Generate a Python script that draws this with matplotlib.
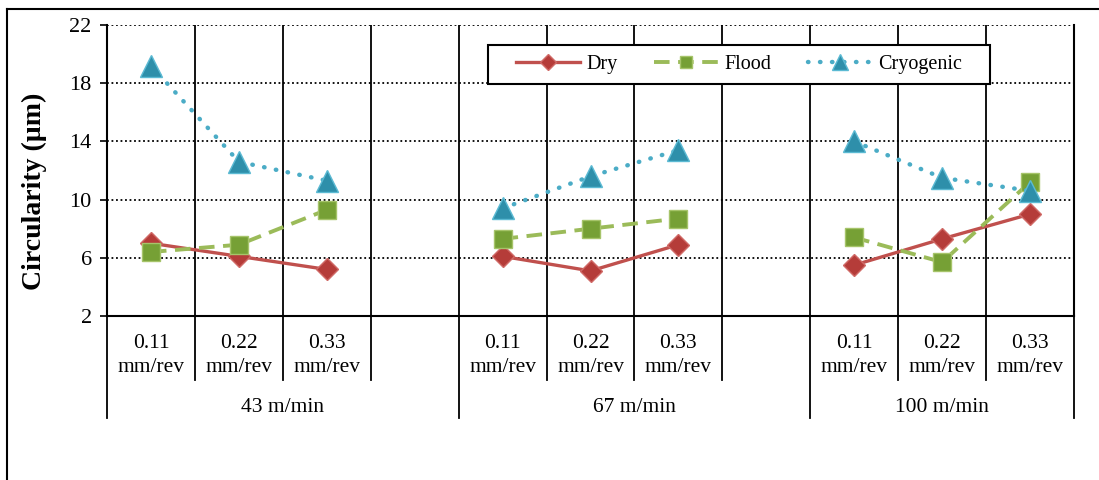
import matplotlib.pyplot as plt
from matplotlib.lines import Line2D
from matplotlib.patches import Rectangle
import numpy as np

plt.rcParams['font.family'] = ['Liberation Serif', 'DejaVu Serif']

# categories (None = empty slot between speed groups)
feeds = ['0.11\nmm/rev', '0.22\nmm/rev', '0.33\nmm/rev', None,
         '0.11\nmm/rev', '0.22\nmm/rev', '0.33\nmm/rev', None,
         '0.11\nmm/rev', '0.22\nmm/rev', '0.33\nmm/rev']
speeds = ['43 m/min', '67 m/min', '100 m/min']

nan = np.nan
dry = [7.0, 6.1, 5.2, nan, 6.1, 5.1, 6.9, nan, 5.5, 7.3, 9.0]
flood = [6.4, 6.9, 9.3, nan, 7.3, 8.0, 8.7, nan, 7.4, 5.7, 11.2]
cryo = [19.2, 12.6, 11.3, nan, 9.4, 11.6, 13.4, nan, 14.0, 11.5, 10.6]

yticks = [2, 6, 10, 14, 18, 22]


def main():
    fig = plt.figure(figsize=(10.99, 4.8), dpi=100)
    W, H = 1099, 480
    ax = fig.add_axes([107 / W, (480 - 316) / H, (1074 - 107) / W, (316 - 25) / H])

    x = np.arange(len(feeds))
    ax.plot(x, dry, color='#C0504D', lw=2.4, marker='D', ms=11,
            mfc='#B53C39', mec='#D06A67', mew=1, label='Dry', zorder=3)
    ax.plot(x, flood, color='#9BBB59', lw=2.8, ls=(0, (4, 2.2)), marker='s', ms=13,
            mfc='#76A035', mec='#A6C46A', mew=1, label='Flood', zorder=3)
    ax.plot(x, cryo, color='#4BACC6', lw=3.2, ls=(0, (0.1, 2.6)), dash_capstyle='round',
            marker='^', ms=16, mfc='#2E8FAA', mec='#5BBAD3', mew=1,
            label='Cryogenic', zorder=3)

    ax.set_xlim(-0.5, len(feeds) - 0.5)
    ax.set_ylim(2, 22)
    ax.set_yticks(yticks)
    ax.set_yticklabels([str(t) for t in yticks], fontsize=16)
    ax.tick_params(axis='y', length=5, width=1.2, pad=6)
    ax.set_xticks([])
    for yv in yticks[1:]:
        ax.axhline(yv, color='black', lw=1.3, ls=(0, (1, 1.5)), zorder=1)
    for k in range(1, len(feeds)):
        ax.axvline(k - 0.5, color='black', lw=1.3, zorder=1)
    ax.spines['top'].set_visible(False)
    for s in ['left', 'right', 'bottom']:
        ax.spines[s].set_linewidth(1.5)

    ax.set_ylabel('Circularity (µm)', fontsize=20, fontweight='bold')
    ax.yaxis.set_label_coords(-0.062, 0.43)

    # multi-level category axis
    tr = ax.get_xaxis_transform()
    group_edges = [-0.5, 3.5, 7.5, len(feeds) - 0.5]
    for k in range(len(feeds) + 1):
        xe = k - 0.5
        bottom = -0.35 if xe in group_edges else -0.22
        ax.plot([xe, xe], [0, bottom], color='black', lw=1.3, transform=tr,
                clip_on=False)
    for i, lab in enumerate(feeds):
        if lab:
            ax.text(i, -0.135, lab, transform=tr, ha='center', va='center',
                    fontsize=15.5, linespacing=1.35)
    for g, name in enumerate(speeds):
        mid = (group_edges[g] + group_edges[g + 1]) / 2
        ax.text(mid, -0.315, name, transform=tr, ha='center', va='center',
                fontsize=15.5)

    # legend box drawn separately, entries centred inside it
    box = Rectangle((488 / W, 1 - 84 / H), (990 - 488) / W, 39 / H,
                    transform=fig.transFigure, facecolor='white',
                    edgecolor='black', lw=1.5, zorder=4)
    fig.add_artist(box)
    leg = fig.legend(*ax.get_legend_handles_labels(), loc='center',
                     bbox_to_anchor=((488 + 990) / 2 / W, 1 - 64.5 / H),
                     ncol=3, fontsize=14.5, frameon=False,
                     handlelength=3.2, handletextpad=0.3,
                     columnspacing=1.8, markerscale=0.7)
    leg.set_zorder(5)

    # chart area border (left and top)
    fig.add_artist(Line2D([7 / W, 7 / W], [0, 1 - 9 / H], color='black', lw=1.5))
    fig.add_artist(Line2D([7 / W, 1], [1 - 9 / H, 1 - 9 / H], color='black', lw=1.5))

    fig.savefig('out.png', dpi=100)


main()
